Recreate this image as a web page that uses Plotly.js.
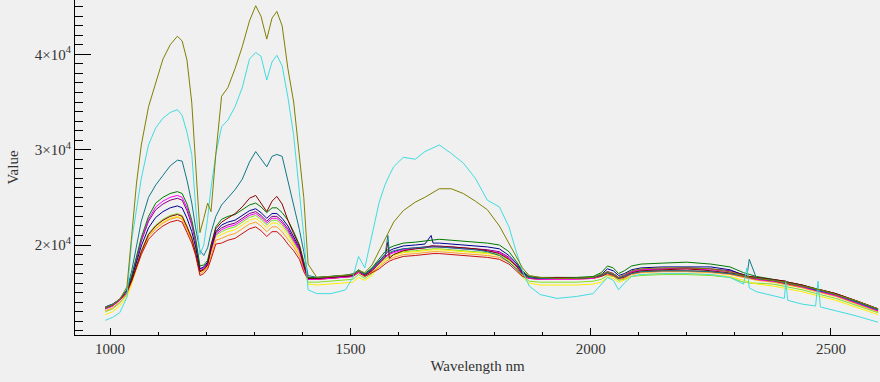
<!DOCTYPE html>
<html>
<head>
<meta charset="utf-8">
<script src="https://cdn.plot.ly/plotly-3.0.1.min.js"></script>
<style>html,body{margin:0;padding:0;background:#f0f0f0;}#chart{width:880px;height:382px;}</style>
</head>
<body>
<div id="chart"></div>
<script>
// Wavelength (nm)
var wavelength = [990,1005,1020,1035,1045,1055,1065,1080,1095,1110,
1125,1140,1150,1160,1170,1178,1187,1195,1203,1210,
1220,1232,1245,1260,1275,1290,1303,1314,1326,1337,
1347,1358,1370,1382,1394,1403,1412,1430,1460,1490,
1505,1517,1530,1545,1560,1572,1578,1581,1590,1610,
1635,1655,1668,1672,1685,1710,1735,1760,1785,1810,
1830,1845,1858,1872,1895,1930,1970,2005,2022,2035,
2047,2058,2070,2085,2105,2150,2200,2250,2290,2318,
2325,2330,2345,2380,2403,2406,2410,2440,2468,2473,
2478,2510,2550,2598];

var olive = [13400,13700,14300,15600,21000,26500,30500,34500,37000,39500,
41000,41900,41400,39400,34900,29000,21300,22800,24400,23500,
29500,35600,36500,38500,40800,43500,45100,44000,41600,43800,
44500,43000,38500,35000,29500,25000,18000,16600,16700,16800,
16900,17300,17100,17900,19400,20700,21300,21600,22400,23600,
24500,25000,25400,25500,25900,25900,25400,24600,23700,22000,
20200,18700,17600,16800,16600,16500,16500,16600,16900,17200,
17000,16600,16900,17300,17500,17600,17600,17500,17200,16800,
16700,16600,16500,16300,16100,16100,16000,15700,15400,15400,
15300,14800,14200,13300];

var cyan = [12100,12400,12900,14500,20500,24000,27000,30500,32300,33300,
33900,34200,33600,31800,29500,24000,19000,20000,22800,26000,
29500,32400,33100,34500,36500,39500,40200,39800,37300,39200,
39900,38800,35500,31500,25500,21000,15300,14900,14900,15300,
16600,18800,17600,21000,24500,26300,27000,27300,28200,29200,
29000,29800,30100,30200,30500,29600,28600,27000,24700,24000,
21900,19300,17300,15700,14800,14400,14600,14900,15900,16600,
16300,15300,16000,16700,16900,17000,17000,16900,16600,15900,
17600,15500,15100,14700,14400,16200,14200,13800,13600,16200,
13500,13100,12600,11900];

var teal = [13500,13800,14300,15300,17300,20000,22500,25000,26300,27300,
28300,28900,28800,26800,24400,21800,19400,18900,19700,21300,
23000,24200,25000,25800,26900,28700,29800,29000,28200,29300,
29500,29300,26800,24000,21600,19300,16800,16600,16700,16800,
17000,17300,16900,17500,18300,18900,21000,19200,19400,19600,
19700,19800,19800,19800,19800,19700,19600,19500,19300,18900,
18200,17500,16900,16600,16500,16500,16500,16600,16800,17100,
16900,16500,16700,17000,17200,17300,17300,17200,17000,16700,
16700,18500,16500,16300,16100,16100,16000,15700,15300,15200,
15200,14800,14100,13200];

var maroon = [13400,13700,14300,15200,16300,17900,19300,21100,22000,22600,
23000,23200,23000,21900,20700,19200,17200,17400,17900,19900,
21700,22400,22800,23300,24000,24900,25200,24400,23500,24600,
25100,24300,22600,21200,19900,18000,16500,16500,16600,16700,
16800,17300,16800,17300,18100,18700,20300,18600,19000,19400,
19600,19700,19900,19900,19800,19800,19700,19600,19400,19100,
18500,17800,17000,16600,16500,16600,16500,16600,16800,17100,
16900,16500,16700,17100,17300,17400,17500,17300,17100,16900,
16800,16700,16600,16400,16200,16200,16100,15800,15400,15300,
15300,14900,14200,13300];

var green = [13400,13700,14300,15300,16800,18800,20800,23000,24400,25000,
25400,25600,25400,24300,22600,20700,17800,17900,18400,20000,
21900,22700,23000,23200,23700,24200,24400,24000,23400,23900,
23900,23400,22600,21400,20000,18200,16600,16600,16700,16800,
16900,17400,17000,17600,18600,19300,19500,19700,19900,20200,
20300,20400,20500,20500,20600,20500,20400,20300,20200,20000,
19300,18300,17300,16700,16600,16600,16600,16700,17100,17800,
17600,17000,17300,17800,18000,18100,18200,18000,17700,17100,
17000,16900,16700,16400,16200,16200,16100,15800,15400,15300,
15300,14900,14200,13300];

var navy = [13400,13700,14300,15200,16500,18200,19900,21800,22900,23500,
23900,24100,23900,22800,21400,19800,17500,17700,18200,19600,
21400,22100,22400,22600,23100,23600,23800,23400,22800,23300,
23300,22800,22000,20900,19700,17900,16500,16500,16600,16700,
16800,17300,16900,17500,18400,19000,19300,19400,19600,19900,
20000,20100,21000,20200,20200,20100,20000,19900,19800,19600,
18900,18100,17200,16600,16500,16500,16500,16600,16900,17500,
17300,16800,17000,17400,17600,17700,17700,17700,17400,16900,
16700,16600,16500,16300,16100,16100,16000,15700,15300,15200,
15200,14800,14100,13200];

var magenta = [13300,13600,14200,15200,16700,18700,20500,22700,24000,24600,
25000,25200,25000,23900,22300,20400,17500,17600,18100,19400,
21100,21600,21900,22100,22600,23100,23300,22900,22300,22800,
22800,22300,21500,20500,19400,17700,16400,16400,16500,16600,
16700,17200,16800,17300,18100,18700,18900,19000,19200,19500,
19600,19700,19800,19800,19800,19700,19600,19500,19400,19200,
18600,17800,17000,16500,16400,16400,16400,16500,16800,17200,
17000,16600,16800,17200,17400,17500,17500,17400,17200,16800,
16700,16600,16400,16200,16100,16100,16000,15600,15200,15200,
15100,14700,14000,13100];

var purple = [13500,13800,14300,15200,16600,18500,20400,22500,23700,24300,
24700,24900,24700,23600,22100,20300,17300,17500,18000,19500,
21300,21800,22100,22300,22800,23300,23500,23100,22500,23000,
23000,22500,21700,20600,19500,17800,16400,16500,16600,16700,
16800,17300,16900,17400,18200,18800,19000,19100,19300,19600,
19700,19800,19900,19900,19900,19800,19700,19600,19500,19300,
18700,17900,17100,16600,16500,16500,16500,16600,16800,17200,
17000,16600,16800,17200,17400,17500,17600,17500,17300,16900,
16800,16700,16600,16400,16200,16200,16100,15800,15400,15300,
15300,14900,14200,13300];

var yellow = [12700,13000,13600,14500,15900,17600,19100,20900,21800,22400,
22800,23000,22800,21700,20500,19100,17200,17300,17800,19100,
20800,21100,21400,21600,22100,22600,22800,22400,21800,22300,
22300,21800,21000,20100,19100,17500,15900,15800,15900,16000,
16100,16600,16300,16800,17800,18400,18600,18700,18900,19200,
19300,19400,19500,19500,19500,19400,19300,19200,19100,18900,
18300,17500,16600,16000,15800,15800,15800,15900,16100,16600,
16500,16100,16300,16700,16900,17000,17000,16900,16700,16300,
16200,16100,15900,15700,15500,15500,15400,15100,14700,14600,
14600,14200,13500,12700];

var orange = [13100,13400,14000,14900,16200,17700,19200,20900,21700,22300,
22700,22900,22700,21600,20500,19100,17000,17200,17700,18800,
20500,20700,21000,21200,21700,22200,22400,22000,21400,21900,
21900,21400,20600,19800,18800,17400,16400,16400,16500,16600,
16700,17200,16800,17200,17700,18200,18400,18500,18700,19000,
19100,19200,19300,19300,19300,19200,19100,19000,18900,18700,
18200,17500,16800,16500,16400,16400,16400,16500,16700,16900,
16700,16400,16500,16900,17100,17200,17200,17100,16900,16600,
16500,16400,16300,16100,15900,15900,15800,15500,15100,15000,
15000,14600,13900,13000];

var red = [13300,13600,14200,15000,16200,17600,19000,20600,21400,22000,
22400,22600,22400,21300,20200,18900,16800,17000,17500,18500,
20100,20200,20500,20700,21200,21700,21900,21500,20900,21400,
21400,20900,20100,19400,18500,17200,16400,16400,16500,16600,
16700,17100,16700,17100,17500,18000,18200,18300,18500,18800,
18900,19000,19100,19100,19100,19000,18900,18800,18700,18500,
18000,17300,16700,16500,16400,16500,16500,16500,16700,17000,
16800,16500,16600,17000,17200,17300,17300,17200,17000,16700,
16600,16500,16400,16200,16000,16000,15900,15600,15200,15100,
15100,14700,14000,13100];

var lime = [13000,13300,13900,14800,16300,17900,19400,21200,22100,22700,
23100,23300,23100,22000,20800,19300,17300,17400,17900,19200,
21000,21400,21700,21900,22400,22900,23100,22700,22100,22600,
22600,22100,21300,20300,19200,17600,16100,16100,16200,16300,
16400,16900,16500,17000,17900,18500,18700,18800,19000,19300,
19400,19500,19600,19600,19600,19500,19400,19300,19200,19000,
18400,17600,16800,16200,16100,16100,16100,16200,16400,16800,
16700,16300,16400,16700,16800,16900,16900,16800,16600,16100,
16100,16000,16000,15900,15700,15700,15600,15300,14900,14800,
14800,14400,13700,12900];

var seriesList = [
  {name:'Lime', y: lime, color:'#80e020'},
  {name:'Yellow', y: yellow, color:'#ffee00'},
  {name:'Orange', y: orange, color:'#ffa020'},
  {name:'Red', y: red, color:'#c81010'},
  {name:'Purple', y: purple, color:'#800080'},
  {name:'Magenta', y: magenta, color:'#ff00ff'},
  {name:'Navy', y: navy, color:'#000090'},
  {name:'Green', y: green, color:'#007a00'},
  {name:'Maroon', y: maroon, color:'#8b0000'},
  {name:'Teal', y: teal, color:'#107888'},
  {name:'Cyan', y: cyan, color:'#40dce0'},
  {name:'Olive', y: olive, color:'#808000'}
];

var yTickVals = [20000, 30000, 40000];
var yTickText = ['2×10<sup>4</sup>', '3×10<sup>4</sup>', '4×10<sup>4</sup>'];
var yMinorVals = [11000,12000,13000,14000,15000,16000,17000,18000,19000,21000,22000,23000,24000,25000,26000,27000,28000,29000,31000,32000,33000,34000,35000,36000,37000,38000,39000,41000,42000,43000,44000,45000];
var xTickVals = [1000, 1500, 2000, 2500];

var traces = seriesList.map(function(s){
  return {x: wavelength, y: s.y, type:'scatter', mode:'lines', name:s.name,
          line:{color:s.color, width:1}, hoverinfo:'skip'};
});

var serif = 'Liberation Serif';

var layout = {
  width: 880, height: 382,
  margin: {l:75, r:0, t:0, b:47, pad:0},
  paper_bgcolor:'#f0f0f0', plot_bgcolor:'#f0f0f0',
  showlegend:false,
  font:{family:serif, color:'#333', size:14},
  xaxis:{
    range:[927, 2602], showgrid:false, zeroline:false,
    showline:true, linecolor:'#000', linewidth:1, mirror:false,
    tickmode:'array', tickvals:xTickVals, ticks:'inside', ticklen:7, tickcolor:'#000', tickwidth:1,
    tickfont:{family:serif, size:15, color:'#333'},
    minor:{tickmode:'linear', tick0:900, dtick:100, ticks:'inside', ticklen:3, tickcolor:'#000', showgrid:false},
    title:{text:'Wavelength nm', font:{family:serif, size:15, color:'#333'}, standoff:4}
  },
  yaxis:{
    range:[10560, 45700], showgrid:false, zeroline:false,
    showline:true, linecolor:'#000', linewidth:1,
    tickmode:'array', tickvals:yTickVals, ticktext:yTickText,
    ticks:'inside', ticklen:16, tickcolor:'#000', tickwidth:1,
    tickfont:{family:serif, size:15, color:'#333'},
    minor:{tickmode:'array', tickvals:yMinorVals, ticks:'inside', ticklen:8, tickcolor:'#000', showgrid:false},
    title:{text:'Value', font:{family:serif, size:15, color:'#333'}, standoff:12}
  }
};

Plotly.newPlot('chart', traces, layout, {staticPlot:true, displayModeBar:false});
</script>
</body>
</html>
